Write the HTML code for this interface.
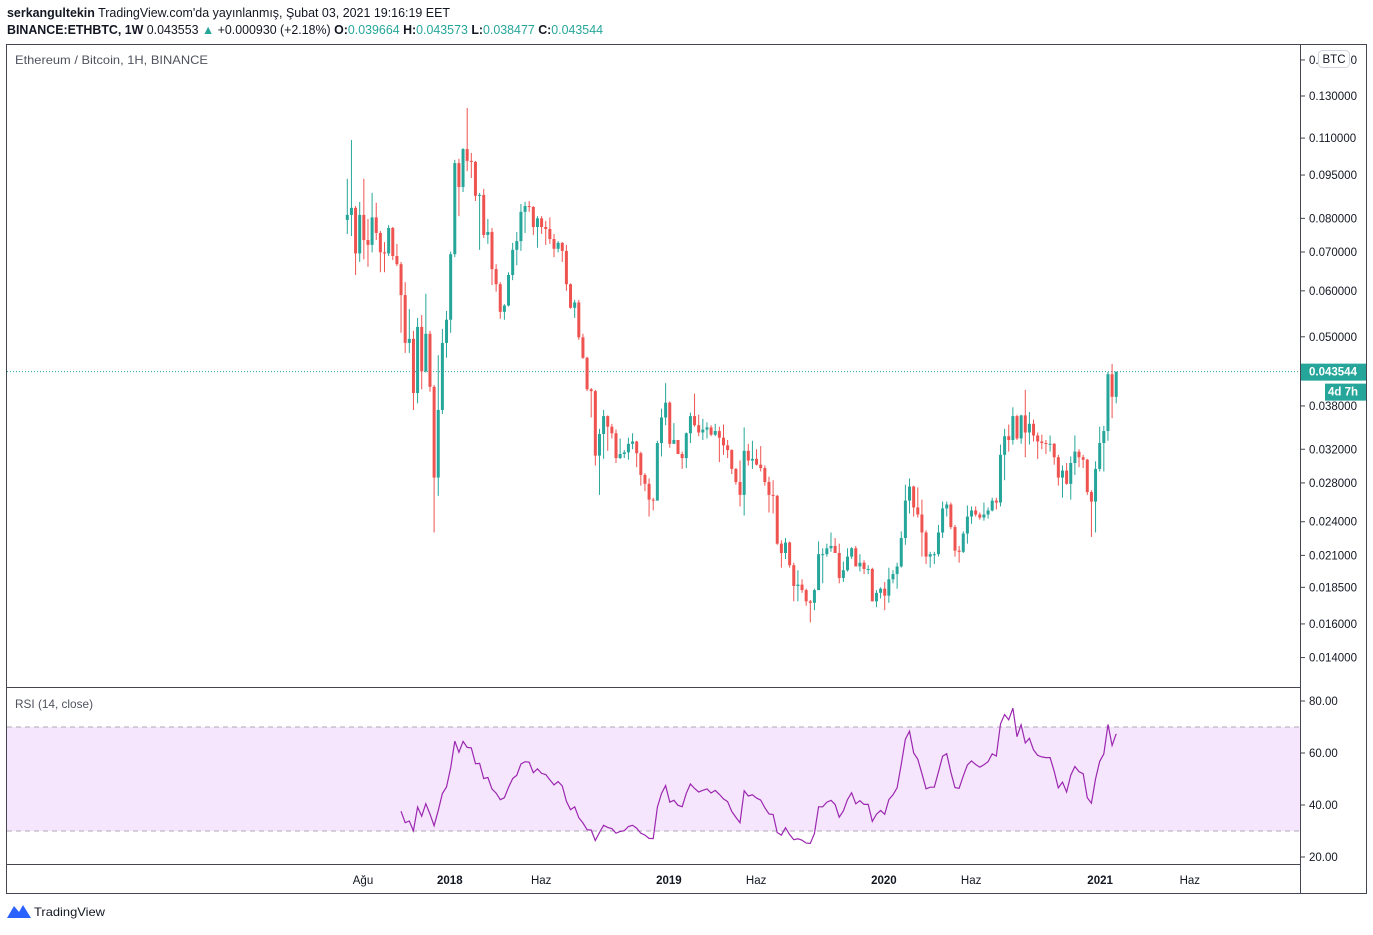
<!DOCTYPE html>
<html><head><meta charset="utf-8">
<style>
html,body{margin:0;padding:0;background:#fff;}
body{width:1373px;height:930px;overflow:hidden;font-family:"Liberation Sans",sans-serif;}
svg text{font-family:"Liberation Sans",sans-serif;}
</style></head>
<body>
<svg id="chart" width="1373" height="930" xmlns="http://www.w3.org/2000/svg">
  <text x="7" y="17" font-size="12.5" fill="#131722" textLength="443" lengthAdjust="spacingAndGlyphs"><tspan font-weight="bold">serkangultekin</tspan> TradingView.com'da yayınlanmış, Şubat 03, 2021 19:16:19 EET</text>
  <text x="7" y="34" font-size="12.5" fill="#131722" textLength="596" lengthAdjust="spacingAndGlyphs"><tspan font-weight="bold">BINANCE:ETHBTC, 1W</tspan> 0.043553 <tspan fill="#26a69a">▲</tspan> +0.000930 (+2.18%) <tspan font-weight="bold">O:</tspan><tspan fill="#26a69a">0.039664</tspan> <tspan font-weight="bold">H:</tspan><tspan fill="#26a69a">0.043573</tspan> <tspan font-weight="bold">L:</tspan><tspan fill="#26a69a">0.038477</tspan> <tspan font-weight="bold">C:</tspan><tspan fill="#26a69a">0.043544</tspan></text>
  <rect x="7" y="727" width="1293" height="104" fill="#f5e6fd"/>
  <g id="main"></g>
  <g id="rsi"></g>
  <g id="axes"></g>
  <rect x="6.5" y="44.5" width="1360" height="849" fill="none" stroke="#434651" stroke-width="1"/>
  <line x1="1300.5" y1="44" x2="1300.5" y2="893" stroke="#434651"/>
  <line x1="7" y1="687.5" x2="1300" y2="687.5" stroke="#434651"/>
  <line x1="7" y1="864.5" x2="1300" y2="864.5" stroke="#434651"/>
  <text x="15" y="64" font-size="12" fill="#50535e" textLength="193" lengthAdjust="spacingAndGlyphs">Ethereum / Bitcoin, 1H, BINANCE</text>
  <text x="15" y="708" font-size="12" fill="#50535e" textLength="78" lengthAdjust="spacingAndGlyphs">RSI (14, close)</text>
  <g>
    <path d="M7 918 L14 906 L19 912 L23 905 L31 918 Z" fill="#2962ff"/>
    <text x="34" y="916" font-size="12" fill="#131722" textLength="71" lengthAdjust="spacingAndGlyphs">TradingView</text>
  </g>
</svg>
<script>
const firstOpen = 0.0795;
const closes = [0.0811,0.0834,0.0696,0.0811,0.0734,0.0720,0.0803,0.0755,0.0699,0.0696,0.0770,0.0689,0.0667,0.0590,0.0488,0.0496,0.0400,0.0520,0.0436,0.0506,0.0410,0.0286,0.0374,0.0488,0.0535,0.0694,0.0996,0.0906,0.1053,0.1005,0.1001,0.0875,0.0878,0.0749,0.0758,0.0654,0.0616,0.0552,0.0566,0.0639,0.0706,0.0731,0.0821,0.0840,0.0837,0.0773,0.0800,0.0773,0.0767,0.0737,0.0709,0.0726,0.0703,0.0616,0.0561,0.0573,0.0499,0.0460,0.0406,0.0403,0.0312,0.0340,0.0365,0.0350,0.0341,0.0309,0.0314,0.0316,0.0327,0.0330,0.0315,0.0289,0.0279,0.0262,0.0261,0.0328,0.0363,0.0385,0.0327,0.0332,0.0314,0.0309,0.0341,0.0365,0.0352,0.0342,0.0346,0.0349,0.0339,0.0344,0.0335,0.0325,0.0319,0.0296,0.0281,0.0267,0.0318,0.0306,0.0308,0.0301,0.0297,0.0281,0.0267,0.0266,0.0220,0.0212,0.0221,0.0202,0.0186,0.0187,0.0183,0.0175,0.0174,0.0183,0.0211,0.0211,0.0216,0.0218,0.0212,0.0192,0.0198,0.0209,0.0216,0.0201,0.0204,0.0199,0.0199,0.0175,0.0181,0.0184,0.0179,0.0191,0.0195,0.0201,0.0225,0.0261,0.0276,0.0254,0.0247,0.0230,0.0209,0.0211,0.0211,0.0230,0.0253,0.0257,0.0235,0.0214,0.0213,0.0229,0.0245,0.0251,0.0247,0.0244,0.0247,0.0251,0.0261,0.0259,0.0313,0.0337,0.0332,0.0365,0.0334,0.0366,0.0342,0.0354,0.0338,0.0330,0.0328,0.0327,0.0327,0.0310,0.0286,0.0294,0.0279,0.0303,0.0317,0.0310,0.0307,0.0270,0.0260,0.0296,0.0328,0.0344,0.0431,0.0394,0.043544];
const highs = [0.0936,0.1092,0.0840,0.0854,0.0936,0.0798,0.0885,0.0851,0.0761,0.0728,0.0779,0.0773,0.0723,0.0673,0.0621,0.0558,0.0512,0.0539,0.0545,0.0593,0.0512,0.0413,0.0465,0.0516,0.0554,0.0701,0.1009,0.1013,0.1057,0.1240,0.1037,0.1005,0.0885,0.0899,0.0798,0.0770,0.0667,0.0621,0.0569,0.0646,0.0726,0.0758,0.0847,0.0854,0.0857,0.0840,0.0807,0.0807,0.0792,0.0803,0.0752,0.0731,0.0728,0.0720,0.0618,0.0579,0.0579,0.0506,0.0462,0.0408,0.0405,0.0347,0.0374,0.0366,0.0354,0.0346,0.0334,0.0319,0.0335,0.0341,0.0331,0.0317,0.0291,0.0285,0.0264,0.0331,0.0376,0.0416,0.0387,0.0355,0.0332,0.0317,0.0342,0.0370,0.0399,0.0367,0.0361,0.0356,0.0352,0.0354,0.0350,0.0353,0.0332,0.0320,0.0297,0.0306,0.0349,0.0327,0.0331,0.0320,0.0324,0.0300,0.0287,0.0283,0.0267,0.0223,0.0225,0.0222,0.0204,0.0198,0.0191,0.0184,0.0176,0.0184,0.0222,0.0216,0.0220,0.0230,0.0225,0.0220,0.0205,0.0216,0.0217,0.0218,0.0211,0.0206,0.0202,0.0200,0.0183,0.0185,0.0189,0.0200,0.0198,0.0204,0.0231,0.0278,0.0285,0.0277,0.0275,0.0262,0.0232,0.0213,0.0213,0.0237,0.0260,0.0260,0.0259,0.0237,0.0218,0.0231,0.0256,0.0255,0.0255,0.0249,0.0259,0.0254,0.0264,0.0264,0.0326,0.0347,0.0353,0.0378,0.0367,0.0367,0.0405,0.0371,0.0360,0.0342,0.0339,0.0332,0.0338,0.0328,0.0313,0.0300,0.0303,0.0311,0.0338,0.0320,0.0313,0.0308,0.0272,0.0305,0.0350,0.0351,0.0435,0.0449,0.0435];
const lows = [0.0752,0.0746,0.0639,0.0673,0.0680,0.0660,0.0699,0.0734,0.0646,0.0646,0.0689,0.0678,0.0662,0.0508,0.0469,0.0469,0.0374,0.0384,0.0406,0.0434,0.0402,0.0230,0.0266,0.0368,0.0460,0.0508,0.0686,0.0807,0.0888,0.0965,0.0939,0.0857,0.0706,0.0740,0.0723,0.0614,0.0598,0.0537,0.0535,0.0564,0.0626,0.0664,0.0703,0.0755,0.0821,0.0749,0.0712,0.0752,0.0720,0.0723,0.0686,0.0699,0.0673,0.0600,0.0559,0.0539,0.0494,0.0458,0.0403,0.0363,0.0300,0.0267,0.0308,0.0318,0.0334,0.0303,0.0308,0.0309,0.0307,0.0320,0.0298,0.0277,0.0271,0.0245,0.0251,0.0261,0.0311,0.0352,0.0322,0.0327,0.0314,0.0296,0.0297,0.0328,0.0350,0.0337,0.0332,0.0334,0.0337,0.0337,0.0304,0.0313,0.0309,0.0290,0.0278,0.0255,0.0246,0.0300,0.0296,0.0300,0.0293,0.0277,0.0249,0.0248,0.0219,0.0200,0.0207,0.0200,0.0175,0.0175,0.0181,0.0172,0.0161,0.0169,0.0183,0.0188,0.0209,0.0213,0.0212,0.0188,0.0189,0.0197,0.0207,0.0201,0.0197,0.0195,0.0195,0.0175,0.0171,0.0177,0.0169,0.0174,0.0188,0.0184,0.0200,0.0219,0.0248,0.0245,0.0244,0.0209,0.0203,0.0200,0.0203,0.0209,0.0225,0.0245,0.0233,0.0209,0.0204,0.0212,0.0220,0.0238,0.0245,0.0242,0.0241,0.0243,0.0250,0.0252,0.0255,0.0283,0.0317,0.0326,0.0332,0.0327,0.0310,0.0326,0.0330,0.0308,0.0320,0.0314,0.0317,0.0301,0.0277,0.0264,0.0278,0.0262,0.0289,0.0298,0.0297,0.0267,0.0226,0.0230,0.0293,0.0293,0.0331,0.0362,0.0384];
const priceTicks = [0.150000,0.130000,0.110000,0.095000,0.080000,0.070000,0.060000,0.050000,0.038000,0.032000,0.028000,0.024000,0.021000,0.018500,0.016000,0.014000];
const rsiTicks = [80,60,40,20];
const timeLabels = ["Ağu","2018","Haz","2019","Haz","2020","Haz","2021","Haz"];
const timeWeeks = [3.8,24.8,46.9,77.8,98.9,129.8,150.9,182.1,203.8];
const lastPrice = 0.043544;

const NS = "http://www.w3.org/2000/svg";
function mk(tag, attrs, parent){const e=document.createElementNS(NS,tag);for(const k in attrs)e.setAttribute(k,attrs[k]);parent.appendChild(e);return e;}
function yP(p){return 96 - 252*Math.log(p/0.13);}
function xI(i){return 347.3 + i*4.134;}
function yR(v){return 701 + (80 - v)*2.6;}

const main=document.getElementById('main'), rsiG=document.getElementById('rsi'), axes=document.getElementById('axes');

const lp = mk('line',{x1:7,x2:1300,y1:yP(lastPrice),y2:yP(lastPrice),stroke:'#26a69a','stroke-dasharray':'1 2','stroke-width':1},main);



for(let i=0;i<closes.length;i++){
  const o = i===0?firstOpen:closes[i-1], c=closes[i];
  const up = c>=o, col = up?'#26a69a':'#ef5350';
  const g = mk('g',{},main);
  
  
  const x=xI(i);
  mk('line',{x1:x,x2:x,y1:yP(highs[i]),y2:yP(lows[i]),stroke:col,'stroke-width':1},g);
  const t=Math.min(yP(o),yP(c)), b=Math.max(yP(o),yP(c));
  mk('rect',{x:x-1.5,y:t,width:3,height:Math.max(1,b-t),fill:col},g);
}

priceTicks.forEach(p=>{
  const y=yP(p);
  const g=mk('g',{},axes);
  
  
  mk('line',{x1:1300,x2:1305,y1:y,y2:y,stroke:'#434651'},g);
  const t=mk('text',{x:1309,y:y+4,'font-size':11.5,fill:'#131722'},g);
  t.textContent=p.toFixed(6);
});
const bb=mk('g',{},axes);


mk('rect',{x:1318.5,y:50.5,width:31,height:17,rx:4,fill:'#fff',stroke:'#d1d4dc'},bb);
const bt=mk('text',{x:1334,y:63,'font-size':11.5,fill:'#131722','text-anchor':'middle'},bb);
bt.textContent='BTC';
const lg=mk('g',{},axes);


const ly=yP(lastPrice);
mk('rect',{x:1301,y:ly-8,width:65,height:17,fill:'#26a69a'},lg);
const lt=mk('text',{x:1309,y:ly+4,'font-size':11.5,'font-weight':'bold',fill:'#fff'},lg);
lt.textContent=lastPrice.toFixed(6);
mk('rect',{x:1325,y:ly+12,width:41,height:17,fill:'#26a69a'},lg);
const cd=mk('text',{x:1328,y:ly+24,'font-size':11.5,'font-weight':'bold',fill:'#fff'},lg);
cd.textContent='4d 7h';

mk('line',{x1:7,x2:1300,y1:yR(70),y2:yR(70),stroke:'#b2a8b8','stroke-dasharray':'5 4'},rsiG);
mk('line',{x1:7,x2:1300,y1:yR(30),y2:yR(30),stroke:'#b2a8b8','stroke-dasharray':'5 4'},rsiG);
rsiTicks.forEach(v=>{
  const y=yR(v);
  const g=mk('g',{},axes);
  
  
  mk('line',{x1:1300,x2:1305,y1:y,y2:y,stroke:'#434651'},g);
  const t=mk('text',{x:1309,y:y+4,'font-size':11.5,fill:'#131722'},g);
  t.textContent=v.toFixed(2);
});
(function(){
  const n=14; let ag=0, al=0; const pts=[];
  const all=[firstOpen].concat(closes);
  for(let i=1;i<all.length;i++){
    const d=all[i]-all[i-1], gn=Math.max(d,0), ls=Math.max(-d,0);
    if(i<=n){ag+=gn/n; al+=ls/n; if(i<n) continue;}
    else {ag=(ag*(n-1)+gn)/n; al=(al*(n-1)+ls)/n;}
    const r = al===0?100:100-100/(1+ag/al);
    pts.push(xI(i-1).toFixed(1)+','+yR(r).toFixed(1));
  }
  const pl=mk('polyline',{points:pts.join(' '),fill:'none',stroke:'#9c27b0','stroke-width':1.2},rsiG);
  
  
})();

timeLabels.forEach((l,i)=>{
  const t=mk('text',{x:xI(timeWeeks[i]),y:884,'font-size':11.5,fill:'#131722','text-anchor':'middle','font-weight':/^\d/.test(l)?'bold':'normal'},axes);
  
  
  t.textContent=l;
});
</script>
</body></html>
